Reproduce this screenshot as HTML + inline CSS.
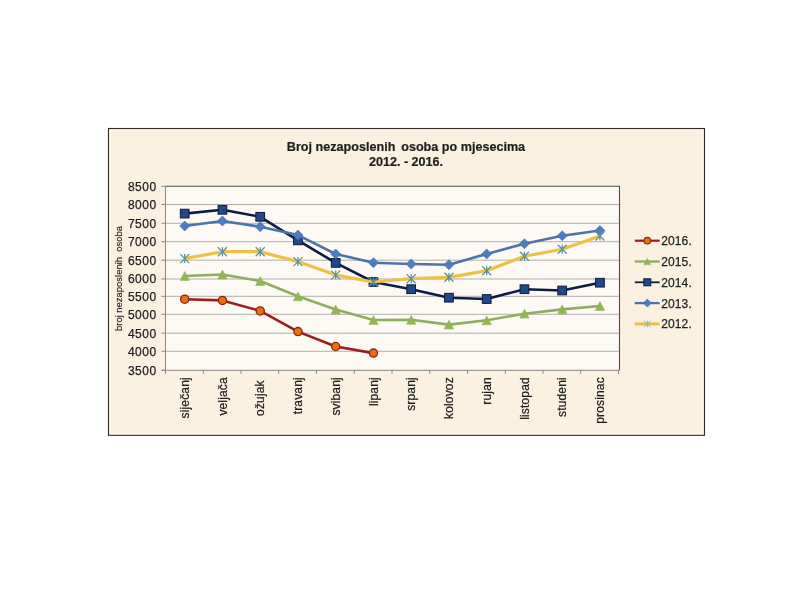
<!DOCTYPE html>
<html><head><meta charset="utf-8"><style>
html,body{margin:0;padding:0;background:#fff;width:800px;height:600px;overflow:hidden}
svg{display:block;will-change:transform}
.ax{font-family:"Liberation Sans",sans-serif;font-size:12px;fill:#1E1E1E;stroke:#1E1E1E;stroke-width:0.25px;white-space:pre}
.yl{letter-spacing:0.5px}
.lg{letter-spacing:0.1px}
.xl{letter-spacing:0.15px}
.yt{font-family:"Liberation Sans",sans-serif;font-size:9.45px;fill:#1E1E1E;stroke:#1E1E1E;stroke-width:0.15px;white-space:pre}
.ti{font-family:"Liberation Sans",sans-serif;font-size:12.6px;font-weight:bold;fill:#1E1E1E;stroke:#1E1E1E;stroke-width:0.2px;white-space:pre}
</style></head><body>
<svg width="800" height="600" viewBox="0 0 800 600">
<rect x="108.6" y="128.6" width="595.8" height="306.6" fill="#FBF1E1" stroke="#2E2C25" stroke-width="1.3"/>
<rect x="109.9" y="129.9" width="593.2" height="304.0" fill="none" stroke="#FFFBF0" stroke-width="1.2"/>
<rect x="165.5" y="186.3" width="454.0" height="184.0" fill="#FDFAF5"/>
<line x1="165.5" y1="204.50" x2="619.5" y2="204.50" stroke="#B2AEA8" stroke-width="1"/>
<line x1="165.5" y1="223.30" x2="619.5" y2="223.30" stroke="#B2AEA8" stroke-width="1"/>
<line x1="165.5" y1="241.70" x2="619.5" y2="241.70" stroke="#B2AEA8" stroke-width="1"/>
<line x1="165.5" y1="260.20" x2="619.5" y2="260.20" stroke="#B2AEA8" stroke-width="1"/>
<line x1="165.5" y1="279.00" x2="619.5" y2="279.00" stroke="#B2AEA8" stroke-width="1"/>
<line x1="165.5" y1="296.30" x2="619.5" y2="296.30" stroke="#B2AEA8" stroke-width="1"/>
<line x1="165.5" y1="314.30" x2="619.5" y2="314.30" stroke="#B2AEA8" stroke-width="1"/>
<line x1="165.5" y1="333.20" x2="619.5" y2="333.20" stroke="#B2AEA8" stroke-width="1"/>
<line x1="165.5" y1="351.30" x2="619.5" y2="351.30" stroke="#B2AEA8" stroke-width="1"/>
<path d="M165.5,186.3 H619.5 V370.3" stroke="#4E4C44" stroke-width="1.1" fill="none"/>
<line x1="165.5" y1="186.3" x2="165.5" y2="373.3" stroke="#8A877F" stroke-width="1"/>
<line x1="161.5" y1="370.3" x2="619.5" y2="370.3" stroke="#8A877F" stroke-width="1"/>
<line x1="161.5" y1="186.30" x2="165.5" y2="186.30" stroke="#8A877F" stroke-width="1"/>
<line x1="161.5" y1="204.50" x2="165.5" y2="204.50" stroke="#8A877F" stroke-width="1"/>
<line x1="161.5" y1="223.30" x2="165.5" y2="223.30" stroke="#8A877F" stroke-width="1"/>
<line x1="161.5" y1="241.70" x2="165.5" y2="241.70" stroke="#8A877F" stroke-width="1"/>
<line x1="161.5" y1="260.20" x2="165.5" y2="260.20" stroke="#8A877F" stroke-width="1"/>
<line x1="161.5" y1="279.00" x2="165.5" y2="279.00" stroke="#8A877F" stroke-width="1"/>
<line x1="161.5" y1="296.30" x2="165.5" y2="296.30" stroke="#8A877F" stroke-width="1"/>
<line x1="161.5" y1="314.30" x2="165.5" y2="314.30" stroke="#8A877F" stroke-width="1"/>
<line x1="161.5" y1="333.20" x2="165.5" y2="333.20" stroke="#8A877F" stroke-width="1"/>
<line x1="161.5" y1="351.30" x2="165.5" y2="351.30" stroke="#8A877F" stroke-width="1"/>
<line x1="161.5" y1="370.30" x2="165.5" y2="370.30" stroke="#8A877F" stroke-width="1"/>
<line x1="165.50" y1="370.3" x2="165.50" y2="373.8" stroke="#8A877F" stroke-width="1"/>
<line x1="203.25" y1="370.3" x2="203.25" y2="373.8" stroke="#8A877F" stroke-width="1"/>
<line x1="241.00" y1="370.3" x2="241.00" y2="373.8" stroke="#8A877F" stroke-width="1"/>
<line x1="278.75" y1="370.3" x2="278.75" y2="373.8" stroke="#8A877F" stroke-width="1"/>
<line x1="316.50" y1="370.3" x2="316.50" y2="373.8" stroke="#8A877F" stroke-width="1"/>
<line x1="354.25" y1="370.3" x2="354.25" y2="373.8" stroke="#8A877F" stroke-width="1"/>
<line x1="392.00" y1="370.3" x2="392.00" y2="373.8" stroke="#8A877F" stroke-width="1"/>
<line x1="429.75" y1="370.3" x2="429.75" y2="373.8" stroke="#8A877F" stroke-width="1"/>
<line x1="467.50" y1="370.3" x2="467.50" y2="373.8" stroke="#8A877F" stroke-width="1"/>
<line x1="505.25" y1="370.3" x2="505.25" y2="373.8" stroke="#8A877F" stroke-width="1"/>
<line x1="543.00" y1="370.3" x2="543.00" y2="373.8" stroke="#8A877F" stroke-width="1"/>
<line x1="580.75" y1="370.3" x2="580.75" y2="373.8" stroke="#8A877F" stroke-width="1"/>
<line x1="618.50" y1="370.3" x2="618.50" y2="373.8" stroke="#8A877F" stroke-width="1"/>
<text x="156.6" y="190.60" text-anchor="end" class="ax yl">8500</text>
<text x="156.6" y="208.80" text-anchor="end" class="ax yl">8000</text>
<text x="156.6" y="227.60" text-anchor="end" class="ax yl">7500</text>
<text x="156.6" y="246.00" text-anchor="end" class="ax yl">7000</text>
<text x="156.6" y="264.50" text-anchor="end" class="ax yl">6500</text>
<text x="156.6" y="283.30" text-anchor="end" class="ax yl">6000</text>
<text x="156.6" y="300.60" text-anchor="end" class="ax yl">5500</text>
<text x="156.6" y="318.60" text-anchor="end" class="ax yl">5000</text>
<text x="156.6" y="337.50" text-anchor="end" class="ax yl">4500</text>
<text x="156.6" y="355.60" text-anchor="end" class="ax yl">4000</text>
<text x="156.6" y="374.60" text-anchor="end" class="ax yl">3500</text>
<text transform="translate(188.90,377.20) rotate(-90)" text-anchor="end" class="ax xl">siječanj</text>
<text transform="translate(226.65,377.20) rotate(-90)" text-anchor="end" class="ax xl">veljača</text>
<text transform="translate(264.40,380.30) rotate(-90)" text-anchor="end" class="ax xl">ožujak</text>
<text transform="translate(302.15,377.20) rotate(-90)" text-anchor="end" class="ax xl">travanj</text>
<text transform="translate(339.90,377.20) rotate(-90)" text-anchor="end" class="ax xl">svibanj</text>
<text transform="translate(377.65,377.20) rotate(-90)" text-anchor="end" class="ax xl">lipanj</text>
<text transform="translate(415.40,377.20) rotate(-90)" text-anchor="end" class="ax xl">srpanj</text>
<text transform="translate(453.15,377.20) rotate(-90)" text-anchor="end" class="ax xl">kolovoz</text>
<text transform="translate(490.90,377.20) rotate(-90)" text-anchor="end" class="ax xl">rujan</text>
<text transform="translate(528.65,377.20) rotate(-90)" text-anchor="end" class="ax xl">listopad</text>
<text transform="translate(566.40,377.20) rotate(-90)" text-anchor="end" class="ax xl">studeni</text>
<text transform="translate(604.15,377.20) rotate(-90)" text-anchor="end" class="ax xl">prosinac</text>
<text transform="translate(122,331) rotate(-90)" class="yt">broj nezaposlenih  osoba</text>
<text x="406" y="150.9" text-anchor="middle" class="ti">Broj nezaposlenih<tspan dx="2.4"> osoba po mjesecima</tspan></text>
<text x="406" y="166.3" text-anchor="middle" class="ti">2012. - 2016.</text>
<polyline points="184.70,299.20 222.45,300.40 260.20,310.90 297.95,331.60 335.70,346.50 373.45,353.10" fill="none" stroke="#9C1C1F" stroke-width="2.6" stroke-linejoin="round"/>
<circle cx="184.70" cy="299.20" r="4.1" fill="#EA6E14" stroke="#8A280A" stroke-width="1.3"/>
<circle cx="222.45" cy="300.40" r="4.1" fill="#EA6E14" stroke="#8A280A" stroke-width="1.3"/>
<circle cx="260.20" cy="310.90" r="4.1" fill="#EA6E14" stroke="#8A280A" stroke-width="1.3"/>
<circle cx="297.95" cy="331.60" r="4.1" fill="#EA6E14" stroke="#8A280A" stroke-width="1.3"/>
<circle cx="335.70" cy="346.50" r="4.1" fill="#EA6E14" stroke="#8A280A" stroke-width="1.3"/>
<circle cx="373.45" cy="353.10" r="4.1" fill="#EA6E14" stroke="#8A280A" stroke-width="1.3"/>
<polyline points="184.70,276.00 222.45,274.50 260.20,281.00 297.95,296.30 335.70,309.50 373.45,320.00 411.20,319.80 448.95,324.60 486.70,320.30 524.45,313.70 562.20,309.40 599.95,306.00" fill="none" stroke="#8FAD5E" stroke-width="2.6" stroke-linejoin="round"/>
<path d="M184.70,271.58 L189.35,280.42 L180.05,280.42 Z" fill="#93B655" stroke="#93B655" stroke-width="0.6"/>
<path d="M222.45,270.08 L227.10,278.92 L217.80,278.92 Z" fill="#93B655" stroke="#93B655" stroke-width="0.6"/>
<path d="M260.20,276.58 L264.85,285.42 L255.55,285.42 Z" fill="#93B655" stroke="#93B655" stroke-width="0.6"/>
<path d="M297.95,291.88 L302.60,300.72 L293.30,300.72 Z" fill="#93B655" stroke="#93B655" stroke-width="0.6"/>
<path d="M335.70,305.08 L340.35,313.92 L331.05,313.92 Z" fill="#93B655" stroke="#93B655" stroke-width="0.6"/>
<path d="M373.45,315.58 L378.10,324.42 L368.80,324.42 Z" fill="#93B655" stroke="#93B655" stroke-width="0.6"/>
<path d="M411.20,315.38 L415.85,324.22 L406.55,324.22 Z" fill="#93B655" stroke="#93B655" stroke-width="0.6"/>
<path d="M448.95,320.18 L453.60,329.02 L444.30,329.02 Z" fill="#93B655" stroke="#93B655" stroke-width="0.6"/>
<path d="M486.70,315.88 L491.35,324.72 L482.05,324.72 Z" fill="#93B655" stroke="#93B655" stroke-width="0.6"/>
<path d="M524.45,309.28 L529.10,318.12 L519.80,318.12 Z" fill="#93B655" stroke="#93B655" stroke-width="0.6"/>
<path d="M562.20,304.98 L566.85,313.82 L557.55,313.82 Z" fill="#93B655" stroke="#93B655" stroke-width="0.6"/>
<path d="M599.95,301.58 L604.60,310.42 L595.30,310.42 Z" fill="#93B655" stroke="#93B655" stroke-width="0.6"/>
<polyline points="184.70,213.60 222.45,209.80 260.20,216.80 297.95,240.40 335.70,262.90 373.45,282.00 411.20,289.20 448.95,297.70 486.70,299.00 524.45,289.20 562.20,290.50 599.95,282.70" fill="none" stroke="#0E1B42" stroke-width="2.6" stroke-linejoin="round"/>
<rect x="180.35" y="209.25" width="8.7" height="8.7" fill="#22488A" stroke="#0C1A44" stroke-width="1"/>
<rect x="218.10" y="205.45" width="8.7" height="8.7" fill="#22488A" stroke="#0C1A44" stroke-width="1"/>
<rect x="255.85" y="212.45" width="8.7" height="8.7" fill="#22488A" stroke="#0C1A44" stroke-width="1"/>
<rect x="293.60" y="236.05" width="8.7" height="8.7" fill="#22488A" stroke="#0C1A44" stroke-width="1"/>
<rect x="331.35" y="258.55" width="8.7" height="8.7" fill="#22488A" stroke="#0C1A44" stroke-width="1"/>
<rect x="369.10" y="277.65" width="8.7" height="8.7" fill="#22488A" stroke="#0C1A44" stroke-width="1"/>
<rect x="406.85" y="284.85" width="8.7" height="8.7" fill="#22488A" stroke="#0C1A44" stroke-width="1"/>
<rect x="444.60" y="293.35" width="8.7" height="8.7" fill="#22488A" stroke="#0C1A44" stroke-width="1"/>
<rect x="482.35" y="294.65" width="8.7" height="8.7" fill="#22488A" stroke="#0C1A44" stroke-width="1"/>
<rect x="520.10" y="284.85" width="8.7" height="8.7" fill="#22488A" stroke="#0C1A44" stroke-width="1"/>
<rect x="557.85" y="286.15" width="8.7" height="8.7" fill="#22488A" stroke="#0C1A44" stroke-width="1"/>
<rect x="595.60" y="278.35" width="8.7" height="8.7" fill="#22488A" stroke="#0C1A44" stroke-width="1"/>
<polyline points="184.70,226.00 222.45,221.00 260.20,226.70 297.95,235.10 335.70,254.00 373.45,262.70 411.20,264.00 448.95,264.70 486.70,253.90 524.45,243.80 562.20,235.70 599.95,230.50" fill="none" stroke="#4D73A8" stroke-width="2.6" stroke-linejoin="round"/>
<path d="M184.70,221.00 L189.70,226.00 L184.70,231.00 L179.70,226.00 Z" fill="#4C7DBE" stroke="#3F6AA6" stroke-width="0.6"/>
<path d="M222.45,216.00 L227.45,221.00 L222.45,226.00 L217.45,221.00 Z" fill="#4C7DBE" stroke="#3F6AA6" stroke-width="0.6"/>
<path d="M260.20,221.70 L265.20,226.70 L260.20,231.70 L255.20,226.70 Z" fill="#4C7DBE" stroke="#3F6AA6" stroke-width="0.6"/>
<path d="M297.95,230.10 L302.95,235.10 L297.95,240.10 L292.95,235.10 Z" fill="#4C7DBE" stroke="#3F6AA6" stroke-width="0.6"/>
<path d="M335.70,249.00 L340.70,254.00 L335.70,259.00 L330.70,254.00 Z" fill="#4C7DBE" stroke="#3F6AA6" stroke-width="0.6"/>
<path d="M373.45,257.70 L378.45,262.70 L373.45,267.70 L368.45,262.70 Z" fill="#4C7DBE" stroke="#3F6AA6" stroke-width="0.6"/>
<path d="M411.20,259.00 L416.20,264.00 L411.20,269.00 L406.20,264.00 Z" fill="#4C7DBE" stroke="#3F6AA6" stroke-width="0.6"/>
<path d="M448.95,259.70 L453.95,264.70 L448.95,269.70 L443.95,264.70 Z" fill="#4C7DBE" stroke="#3F6AA6" stroke-width="0.6"/>
<path d="M486.70,248.90 L491.70,253.90 L486.70,258.90 L481.70,253.90 Z" fill="#4C7DBE" stroke="#3F6AA6" stroke-width="0.6"/>
<path d="M524.45,238.80 L529.45,243.80 L524.45,248.80 L519.45,243.80 Z" fill="#4C7DBE" stroke="#3F6AA6" stroke-width="0.6"/>
<path d="M562.20,230.70 L567.20,235.70 L562.20,240.70 L557.20,235.70 Z" fill="#4C7DBE" stroke="#3F6AA6" stroke-width="0.6"/>
<path d="M599.95,225.50 L604.95,230.50 L599.95,235.50 L594.95,230.50 Z" fill="#4C7DBE" stroke="#3F6AA6" stroke-width="0.6"/>
<polyline points="184.70,258.60 222.45,251.70 260.20,251.70 297.95,261.60 335.70,275.10 373.45,282.00 411.20,278.70 448.95,277.30 486.70,270.70 524.45,256.20 562.20,249.20 599.95,236.00" fill="none" stroke="#EAC248" stroke-width="3.2" stroke-linejoin="round"/>
<path d="M180.20,254.10 L189.20,263.10 M189.20,254.10 L180.20,263.10 M184.70,254.10 L184.70,263.10" stroke="#5A8E9C" stroke-width="1.25" fill="none"/>
<path d="M217.95,247.20 L226.95,256.20 M226.95,247.20 L217.95,256.20 M222.45,247.20 L222.45,256.20" stroke="#5A8E9C" stroke-width="1.25" fill="none"/>
<path d="M255.70,247.20 L264.70,256.20 M264.70,247.20 L255.70,256.20 M260.20,247.20 L260.20,256.20" stroke="#5A8E9C" stroke-width="1.25" fill="none"/>
<path d="M293.45,257.10 L302.45,266.10 M302.45,257.10 L293.45,266.10 M297.95,257.10 L297.95,266.10" stroke="#5A8E9C" stroke-width="1.25" fill="none"/>
<path d="M331.20,270.60 L340.20,279.60 M340.20,270.60 L331.20,279.60 M335.70,270.60 L335.70,279.60" stroke="#5A8E9C" stroke-width="1.25" fill="none"/>
<path d="M368.95,277.50 L377.95,286.50 M377.95,277.50 L368.95,286.50 M373.45,277.50 L373.45,286.50" stroke="#5A8E9C" stroke-width="1.25" fill="none"/>
<path d="M406.70,274.20 L415.70,283.20 M415.70,274.20 L406.70,283.20 M411.20,274.20 L411.20,283.20" stroke="#5A8E9C" stroke-width="1.25" fill="none"/>
<path d="M444.45,272.80 L453.45,281.80 M453.45,272.80 L444.45,281.80 M448.95,272.80 L448.95,281.80" stroke="#5A8E9C" stroke-width="1.25" fill="none"/>
<path d="M482.20,266.20 L491.20,275.20 M491.20,266.20 L482.20,275.20 M486.70,266.20 L486.70,275.20" stroke="#5A8E9C" stroke-width="1.25" fill="none"/>
<path d="M519.95,251.70 L528.95,260.70 M528.95,251.70 L519.95,260.70 M524.45,251.70 L524.45,260.70" stroke="#5A8E9C" stroke-width="1.25" fill="none"/>
<path d="M557.70,244.70 L566.70,253.70 M566.70,244.70 L557.70,253.70 M562.20,244.70 L562.20,253.70" stroke="#5A8E9C" stroke-width="1.25" fill="none"/>
<path d="M595.45,231.50 L604.45,240.50 M604.45,231.50 L595.45,240.50 M599.95,231.50 L599.95,240.50" stroke="#5A8E9C" stroke-width="1.25" fill="none"/>
<line x1="634.8" y1="240.7" x2="659.7" y2="240.7" stroke="#9C1C1F" stroke-width="2.2"/>
<circle cx="647.30" cy="240.70" r="3.3" fill="#EA6E14" stroke="#8A280A" stroke-width="1.1"/>
<line x1="634.8" y1="261.5" x2="659.7" y2="261.5" stroke="#8FAD5E" stroke-width="2.3"/>
<path d="M647.30,258.18 L650.80,264.82 L643.80,264.82 Z" fill="#93B655" stroke="#93B655" stroke-width="0.6"/>
<line x1="634.8" y1="282.3" x2="659.7" y2="282.3" stroke="#0E1B42" stroke-width="1.8"/>
<rect x="643.80" y="278.80" width="7" height="7" fill="#22488A" stroke="#0C1A44" stroke-width="1"/>
<line x1="634.8" y1="303.1" x2="659.7" y2="303.1" stroke="#4D73A8" stroke-width="2.3"/>
<path d="M647.30,299.10 L651.30,303.10 L647.30,307.10 L643.30,303.10 Z" fill="#4C7DBE" stroke="#3F6AA6" stroke-width="0.6"/>
<line x1="634.8" y1="323.9" x2="659.7" y2="323.9" stroke="#EAC248" stroke-width="3"/>
<path d="M644.00,320.60 L650.60,327.20 M650.60,320.60 L644.00,327.20 M647.30,320.60 L647.30,327.20" stroke="#8DB3BC" stroke-width="1.0" fill="none"/>
<text x="661.3" y="245.10" class="ax lg">2016.</text>
<text x="661.3" y="265.90" class="ax lg">2015.</text>
<text x="661.3" y="286.70" class="ax lg">2014.</text>
<text x="661.3" y="307.50" class="ax lg">2013.</text>
<text x="661.3" y="328.30" class="ax lg">2012.</text>
</svg>
</body></html>
